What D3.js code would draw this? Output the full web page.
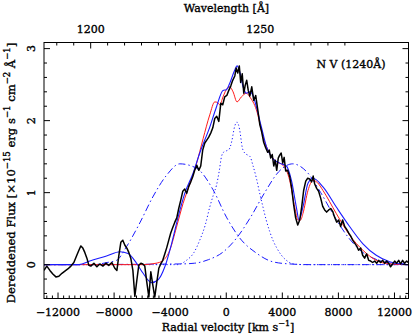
<!DOCTYPE html>
<html><head><meta charset="utf-8">
<script src="https://cdn.jsdelivr.net/npm/d3@7"></script>
<style>
html,body{margin:0;padding:0;background:#fff;}
text{font-family:"DejaVu Serif","Liberation Serif",serif;fill:#000;stroke:#000;stroke-width:0.35px;}
</style></head>
<body>
<svg id="chart" width="415" height="335"></svg>
<script>
// ---- data (radial velocity km/s, flux 1e-15 erg/s/cm2/Å) ----
const xTickValues = [-12000, -8000, -4000, 0, 4000, 8000, 12000];
const yTickValues = [0, 1, 2, 3];
const waveTickValues = [1200, 1250];
const restWavelength = 1240;
const lightSpeed = 299792;
const lineLabel = "N V (1240Å)";

const blackVel = [-13000,-12800,-12580,-12370,-12150,-11940,-11720,-11510,-11300,-11080,-10870,-10660,-10510,-10370,-10230,-10090,-9940,-9800,-9660,-9440,-9230,-9020,-8800,-8590,-8380,-8160,-7950,-7800,-7660,-7520,-7380,-7230,-7090,-6950,-6810,-6660,-6520,-6380,-6240,-6090,-5950,-5810,-5670,-5520,-5380,-5240,-5100,-4950,-4810,-4670,-4530,-4380,-4240,-4100,-3960,-3810,-3670,-3530,-3390,-3240,-3100,-2960,-2820,-2670,-2530,-2390,-2250,-2100,-1960,-1820,-1680,-1530,-1390,-1250,-1100,-960,-820,-680,-530,-390,-250,-110,40,180,320,460,610,710,820,930,1030,1140,1250,1350,1460,1570,1680,1820,1960,2100,2250,2390,2530,2670,2820,2960,3070,3170,3280,3390,3490,3600,3710,3810,3920,4030,4130,4240,4380,4530,4670,4810,4950,5100,5240,5380,5520,5670,5810,5950,6090,6200,6310,6450,6590,6740,6880,7020,7160,7310,7450,7590,7730,7880,8020,8160,8300,8450,8590,8730,8870,9020,9160,9300,9440,9590,9730,9870,10010,10160,10300,10440,10590,10730,10870,11010,11160,11300,11440,11580,11720,11870,12010,12150,12300,12440,12580,12720,12870,12970];
const blackFlux = [-0.08,-0.02,-0.08,-0.13,-0.17,-0.16,-0.12,-0.09,-0.06,-0.02,0.03,0.13,0.20,0.26,0.23,0.17,0.09,-0.01,-0.02,0.02,-0.03,0.01,-0.02,0.02,-0.01,0.03,-0.05,-0.08,0.13,0.31,0.34,0.27,0.23,0.17,0.09,-0.08,-0.44,-0.22,-0.01,0.02,0.01,-0.02,-0.24,-0.45,-0.10,-0.28,-0.45,-0.24,-0.05,0.01,0.06,0.15,0.24,0.34,0.44,0.52,0.59,0.65,0.78,0.90,1.02,1.05,0.99,1.09,1.15,1.22,1.31,1.38,1.31,1.37,1.59,1.69,1.73,1.77,1.83,1.90,2.03,2.06,1.99,2.24,2.22,2.33,2.35,2.42,2.48,2.56,2.62,2.73,2.66,2.76,2.53,2.65,2.38,2.49,2.56,2.42,2.34,2.47,2.28,2.35,2.15,1.95,1.84,1.70,1.62,1.56,1.59,1.48,1.53,1.37,1.45,1.31,1.48,1.52,1.55,1.41,1.49,1.30,1.31,1.22,1.06,0.83,0.65,0.55,0.62,0.80,1.03,1.16,1.20,1.19,1.15,1.23,1.12,1.06,1.02,0.92,0.81,0.76,0.73,0.76,0.78,0.74,0.66,0.59,0.62,0.53,0.62,0.53,0.49,0.44,0.40,0.34,0.30,0.26,0.20,0.23,0.13,0.09,0.15,0.06,0.05,0.03,0.05,0.02,0.06,0.03,0.06,0.02,0.05,0.02,-0.03,0.01,0.05,0.02,0.06,0.01,0.06,0.02,0.05,0.03];

const redVel = [-13000,-6000,-5000,-4500,-4030,-3550,-3080,-2600,-2124,-1650,-1176,-820,-600,-463,-230,0,250,485,770,1080,1440,1675,2150,2620,3100,3580,4050,4525,4880,5120,5300,5470,5830,6190,6500,6900,7850,8800,9750,10700,11650,13000];
const redFlux = [0,0,0.02,0.06,0.20,0.52,0.85,1.12,1.40,1.75,2.08,2.26,2.25,2.22,2.33,2.43,2.47,2.40,2.26,2.33,2.38,2.33,2.15,1.78,1.54,1.43,1.38,1.17,0.80,0.62,0.62,0.71,1.03,1.17,1.14,1.03,0.71,0.41,0.20,0.06,0.01,0];

const blueVel = [-13000,-10500,-9730,-8540,-7590,-7000,-6400,-5930,-5330,-4860,-4380,-3900,-3435,-2960,-2365,-1890,-1176,-700,-230,14,250,600,770,960,1200,1440,1675,1910,2150,2510,2865,3336,3810,4290,4650,5000,5190,5470,5830,6190,6900,7850,8800,9750,10700,11650,12840,13000];
const blueFlux = [0,0,0.05,0.12,0.18,0.155,0.02,-0.12,-0.25,-0.21,-0.03,0.29,0.66,0.99,1.27,1.55,1.91,2.19,2.42,2.43,2.52,2.70,2.76,2.68,2.47,2.38,2.40,2.35,2.19,1.91,1.64,1.47,1.41,1.37,1.17,0.80,0.62,0.80,1.13,1.20,1.08,0.80,0.53,0.29,0.13,0.04,0.0,0];

const broadBlueVel = [-13000,-9500,-8500,-7826,-7113,-6165,-5239,-4262,-3314,-2124,-941,14,962,2153,3314,4526,6000,13000];
const broadBlueFlux = [0,0,0.03,0.06,0.25,0.58,0.94,1.24,1.40,1.34,1.04,0.66,0.37,0.16,0.04,0.01,0,0];

const broadRedVel = [-13000,-3260,-2260,-1260,-260,740,1740,2740,3740,4740,5740,6740,7740,8740,9740,10740,11740,12740,13000];
const broadRedFlux = [0,0.01,0.02,0.07,0.17,0.37,0.66,1.00,1.29,1.40,1.29,1.00,0.66,0.37,0.17,0.07,0.02,0.01,0];

const narrowVel = [-13000,-3500,-2840,-2300,-1890,-1500,-1176,-900,-700,-500,-340,-200,0,200,400,600,770,950,1150,1320,1550,1700,1900,2150,2400,2620,2850,3100,3350,3580,3900,4290,4800,5500,13000];
const narrowFlux = [0,0,0.06,0.17,0.34,0.55,0.80,0.98,1.10,1.30,1.50,1.56,1.58,1.60,1.72,1.92,1.98,1.88,1.62,1.55,1.52,1.50,1.38,1.20,0.98,0.80,0.62,0.46,0.33,0.24,0.14,0.06,0.01,0,0];

// ---- layout ----
const svg = d3.select("#chart");
const L = 44, R = 408.5, T = 42.5, B = 298.5;
const x = d3.scaleLinear().domain([-13000, 13000]).range([L, R]);
const y = d3.scaleLinear().domain([-0.47, 3.085]).range([B, T]);

svg.append("defs").append("clipPath").attr("id","clip")
  .append("rect").attr("x",L).attr("y",T).attr("width",R-L).attr("height",B-T);

const g = svg.append("g").attr("clip-path","url(#clip)");
const line = (vs, fs, curve) => d3.line().x(i=>x(vs[i])).y(i=>y(fs[i])).curve(curve)(d3.range(vs.length));

const blue = "#1a1aff";
g.append("path").attr("d", line(broadBlueVel, broadBlueFlux, d3.curveMonotoneX))
  .attr("fill","none").attr("stroke",blue).attr("stroke-width",1).attr("stroke-dasharray","7,3,1.5,3");
g.append("path").attr("d", line(broadRedVel, broadRedFlux, d3.curveMonotoneX))
  .attr("fill","none").attr("stroke",blue).attr("stroke-width",1).attr("stroke-dasharray","7,3,1.5,3");
g.append("path").attr("d", line(narrowVel, narrowFlux, d3.curveMonotoneX))
  .attr("fill","none").attr("stroke",blue).attr("stroke-width",1).attr("stroke-dasharray","1.2,2.3");
g.append("path").attr("d", line(redVel, redFlux, d3.curveMonotoneX))
  .attr("fill","none").attr("stroke","#ff1a1a").attr("stroke-width",1);
g.append("path").attr("d", line(blueVel, blueFlux, d3.curveMonotoneX))
  .attr("fill","none").attr("stroke",blue).attr("stroke-width",1.1);
g.append("path").attr("d", line(blackVel, blackFlux, d3.curveLinear))
  .attr("fill","none").attr("stroke","#000").attr("stroke-width",1.5).attr("stroke-linejoin","round");

// ---- frame & ticks ----
svg.append("rect").attr("x",L).attr("y",T).attr("width",R-L).attr("height",B-T)
  .attr("fill","none").attr("stroke","#000").attr("stroke-width",1);

const tk = svg.append("g").attr("stroke","#000").attr("stroke-width",1);
d3.range(-12800, 13001, 400).forEach(v => {
  const major = v % 4000 === 0;
  tk.append("line").attr("x1",x(v)).attr("x2",x(v)).attr("y1",B).attr("y2",B-(major?6:3));
});
d3.range(-0.4, 3.01, 0.2).map(v=>Math.round(v*10)/10).forEach(v => {
  const major = Math.abs(v - Math.round(v)) < 1e-6;
  const len = major?6:3;
  tk.append("line").attr("x1",L).attr("x2",L+len).attr("y1",y(v)).attr("y2",y(v));
  tk.append("line").attr("x1",R).attr("x2",R-len).attr("y1",y(v)).attr("y2",y(v));
});
const waveToX = w => x(lightSpeed*(w/restWavelength - 1));
d3.range(1185, 1280, 5).forEach(w => {
  const px = waveToX(w);
  if (px < L || px > R) return;
  const major = w % 50 === 0;
  tk.append("line").attr("x1",px).attr("x2",px).attr("y1",T).attr("y2",T+(major?6:3));
});

// ---- labels ----
const fs = 11;
svg.append("g").selectAll("text").data(xTickValues).join("text")
  .attr("x", d => x(d)).attr("y", 315.5).attr("text-anchor","middle").attr("font-size",fs)
  .text(d => d < 0 ? "\u2212" + Math.abs(d) : d);
svg.append("g").selectAll("text").data(waveTickValues).join("text")
  .attr("x", d => waveToX(d)).attr("y", 33).attr("text-anchor","middle").attr("font-size",fs)
  .text(d => d);
svg.append("g").selectAll("text").data(yTickValues).join("text")
  .attr("transform", d => `translate(35,${y(d)}) rotate(-90)`).attr("text-anchor","middle").attr("font-size",fs)
  .text(d => d);

const xt = svg.append("text").attr("x",228).attr("y",330.5).attr("text-anchor","middle").attr("font-size",fs);
xt.append("tspan").text("Radial velocity [km s");
xt.append("tspan").attr("dy",-5).attr("font-size",8).text("\u22121");
xt.append("tspan").attr("dy",5).text("]");

svg.append("text").attr("x",226.5).attr("y",12).attr("text-anchor","middle").attr("font-size",fs)
  .text("Wavelength [Å]");

const yt = svg.append("text").attr("transform","translate(15,173) rotate(-90)").attr("text-anchor","middle").attr("font-size",11.6);
yt.append("tspan").text("Dereddened Flux [×10");
yt.append("tspan").attr("dy",-5).attr("font-size",8.5).text("\u221215");
yt.append("tspan").attr("dy",5).text(" erg s");
yt.append("tspan").attr("dy",-5).attr("font-size",8.5).text("\u22121");
yt.append("tspan").attr("dy",5).text(" cm");
yt.append("tspan").attr("dy",-5).attr("font-size",8.5).text("\u22122");
yt.append("tspan").attr("dy",5).text(" Å");
yt.append("tspan").attr("dy",-5).attr("font-size",8.5).text("\u22121");
yt.append("tspan").attr("dy",5).text("]");

svg.append("text").attr("x",351).attr("y",68).attr("text-anchor","middle").attr("font-size",fs).text(lineLabel);
</script>
</body></html>
